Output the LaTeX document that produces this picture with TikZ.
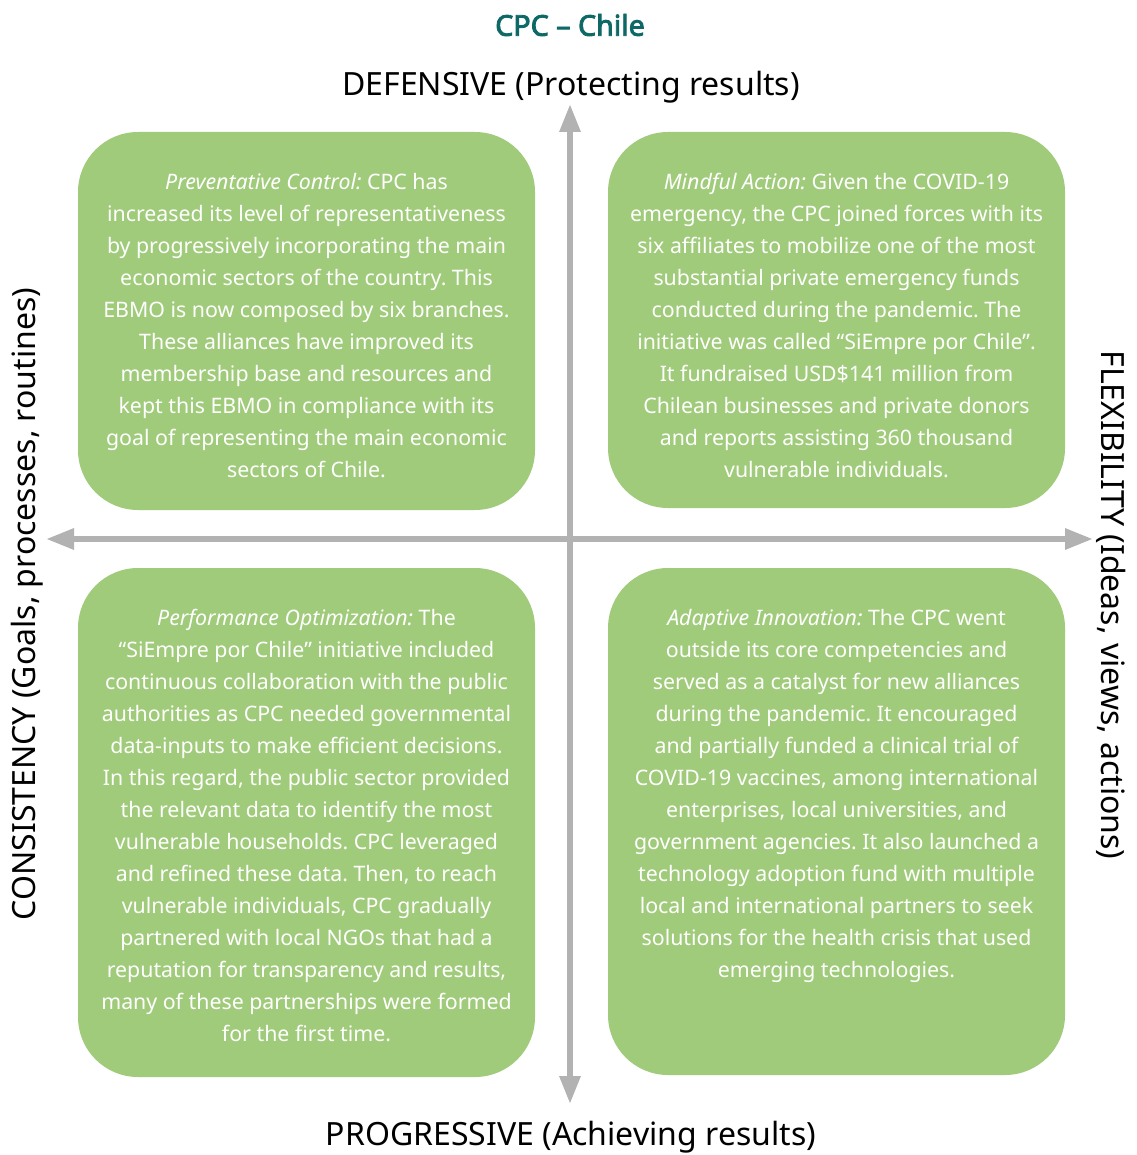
\documentclass[tikz,border=0pt]{standalone}
\usepackage{fontspec}
\setmainfont{Noto Sans}[AutoFakeBold=3]
\usetikzlibrary{arrows.meta,positioning}
\definecolor{quadgreen}{RGB}{160,203,122}
\definecolor{axisgray}{RGB}{178,178,178}
\definecolor{titleteal}{RGB}{14,104,102}
\frenchspacing
\begin{document}
\begin{tikzpicture}[x=0.75pt,y=-0.75pt,
	quad/.style={draw=none,fill=quadgreen,rounded corners=45pt,minimum width=342.75pt,inner sep=0pt},
	quadtext/.style={text=white,align=center,inner sep=0pt,anchor=north,font=\fontsize{16}{24}\selectfont},
	axis/.style={draw=axisgray,line width=4.5pt,{Triangle[width=15pt,length=21pt]}-{Triangle[width=15pt,length=21pt]}},
	axlabel/.style={font=\fontsize{24}{28}\selectfont,inner sep=0pt}]
\useasboundingbox (0,0) rectangle (1136,1155);
% title and axis names
\node[font=\fontsize{21.5}{26}\selectfont\bfseries,text=titleteal] (title) at (570,25) {CPC -- Chile};
\node[axlabel] (def) at (571,87) {DEFENSIVE (Protecting results)};
\node[axlabel] (prog) at (571,1137) {PROGRESSIVE (Achieving results)};
\node[axlabel,rotate=90] (cons) at (27,604) {CONSISTENCY (Goals, processes, routines)};
\node[axlabel,rotate=-90] (flex) at (1111,605) {FLEXIBILITY (Ideas, views, actions)};
% quadrants
\node[quad,minimum height=283.5pt] (tl) at (306.5,321) {};
\node[quad,minimum height=282pt] (tr) at (836.5,320) {};
\node[quad,minimum height=381.75pt] (bl) at (306.5,822.5) {};
\node[quad,minimum height=380.25pt] (br) at (836.5,821.5) {};
\node[quadtext,below=30.75pt of tl.north] (tltext) {\textit{Preventative Control:} CPC has\\
	increased its level of representativeness\\
	by progressively incorporating the main\\
	economic sectors of the country. This\\
	EBMO is now composed by six branches.\\
	These alliances have improved its\\
	membership base and resources and\\
	kept this EBMO in compliance with its\\
	goal of representing the main economic\\
	sectors of Chile.};
\node[quadtext,below=30.75pt of tr.north] (trtext) {\textit{Mindful Action:} Given the COVID-19\\
	emergency, the CPC joined forces with its\\
	six affiliates to mobilize one of the most\\
	substantial private emergency funds\\
	conducted during the pandemic. The\\
	initiative was called “SiEmpre por Chile”.\\
	It fundraised USD\$141 million from\\
	Chilean businesses and private donors\\
	and reports assisting 360 thousand\\
	vulnerable individuals.};
\node[quadtext,below=30.75pt of bl.north] (bltext) {\textit{Performance Optimization:} The\\
	“SiEmpre por Chile” initiative included\\
	continuous collaboration with the public\\
	authorities as CPC needed governmental\\
	data-inputs to make efficient decisions.\\
	In this regard, the public sector provided\\
	the relevant data to identify the most\\
	vulnerable households. CPC leveraged\\
	and refined these data. Then, to reach\\
	vulnerable individuals, CPC gradually\\
	partnered with local NGOs that had a\\
	reputation for transparency and results,\\
	many of these partnerships were formed\\
	for the first time.};
\node[quadtext,below=30.75pt of br.north] (brtext) {\textit{Adaptive Innovation:} The CPC went\\
	outside its core competencies and\\
	served as a catalyst for new alliances\\
	during the pandemic. It encouraged\\
	and partially funded a clinical trial of\\
	COVID-19 vaccines, among international\\
	enterprises, local universities, and\\
	government agencies. It also launched a\\
	technology adoption fund with multiple\\
	local and international partners to seek\\
	solutions for the health crisis that used\\
	emerging technologies.};
% axes
\coordinate (up) at (570,104);
\coordinate (down) at (570,1104);
\coordinate (left) at (46,539);
\coordinate (right) at (1093,539);
\draw[axis] (down) -- (up);
\draw[axis] (left) -- (right);
\end{tikzpicture}
\end{document}
